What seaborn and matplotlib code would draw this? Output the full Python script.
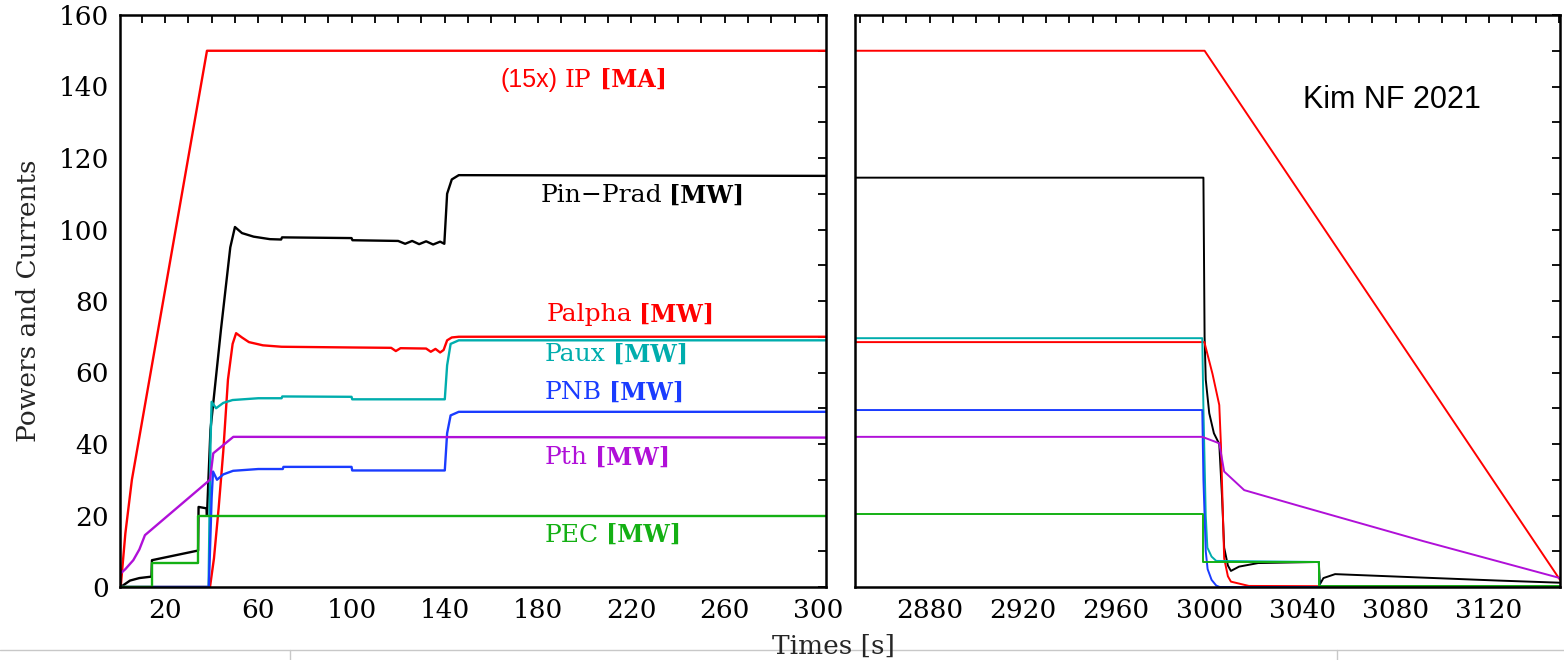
import matplotlib
matplotlib.use("Agg")
import matplotlib.pyplot as plt
from matplotlib.lines import Line2D
from matplotlib.ticker import MultipleLocator
import seaborn as sns

# ---------------------------------------------------------------------
# Data (time in s, values in MW / 15x MA)
# ---------------------------------------------------------------------
# left panel: ramp-up and flat-top
ip_t = [1, 3, 5.8, 38, 303.5]
ip_v = [0, 15, 30, 150, 150]

pin_t = [1, 5, 9, 14.2, 14.4, 34.2, 34.4, 37.8, 38.0, 39.5, 44, 48, 50, 53, 58,
         65, 69.8, 70.2, 100, 100.4, 120, 123, 126, 129, 132, 135, 138, 139.8,
         141, 143, 146, 303.5]
pin_v = [0, 1.8, 2.5, 2.9, 7.5, 10.2, 22.4, 22.0, 20.0, 44, 72, 95, 100.7, 99, 98,
         97.3, 97.2, 97.8, 97.6, 97.0, 96.8, 96.0, 96.8, 95.9, 96.7, 95.8, 96.6, 96.0,
         110, 114, 115.2, 115]

palpha_t = [1, 39.3, 41, 43, 45, 47, 49, 50.5, 53, 56, 62, 70, 100, 117, 119, 121,
            132, 134, 136, 138, 139.5, 141, 143, 146, 303.5]
palpha_v = [0, 0, 8, 22, 38, 58, 68, 71, 69.8, 68.5, 67.6, 67.2, 67.0, 66.9, 66.0, 66.8,
            66.7, 65.8, 66.6, 65.6, 66.3, 69, 69.8, 70, 70]

paux_t = [1, 38.7, 39.5, 40, 41.9, 45, 49, 60, 70, 70.3, 100, 100.3, 140, 141,
          142.5, 146, 303.5]
paux_v = [0, 0, 40, 51.8, 50, 51.5, 52.3, 52.8, 52.8, 53.3, 53.2, 52.5, 52.5, 62,
          68, 69, 69]

pnb_t = [1, 38.8, 40.0, 40.6, 42.3, 45, 49.2, 60, 70.5, 70.8, 100, 100.3, 140, 141,
         142.5, 146, 303.5]
pnb_v = [0, 0, 25, 32.3, 30, 31.5, 32.5, 33, 33, 33.6, 33.6, 32.6, 32.6, 43,
         48, 49, 49]

pth_t = [1, 3, 6.4, 9, 11.4, 39.3, 40.7, 49.3, 303.5]
pth_v = [3.8, 5, 7.5, 10.5, 14.5, 30, 37.4, 42, 41.8]

pec_t = [1, 14.3, 14.3, 34.3, 34.3, 303.5]
pec_v = [0, 0, 6.8, 6.8, 20, 20]

# right panel: ramp-down
ip_r_t = [2848, 2998, 3150.5]
ip_r_v = [150, 150, 2]

pin_r_t = [2848, 2997.5, 2998, 2998.5, 3000, 3002, 3004.3, 3005.5, 3006.4, 3008,
           3009.3, 3012.8, 3021, 3047, 3047.5, 3049, 3054, 3081, 3124, 3150.5]
pin_r_v = [114.5, 114.5, 70, 58, 48.6, 43, 40, 25, 11, 6, 4.5, 5.7, 6.7, 7, 0.8,
           2.5, 3.6, 2.9, 1.8, 1.2]

palpha_r_t = [2848, 2997.9, 3001.4, 3004.3, 3005, 3006.4, 3008, 3009.3, 3017, 3150.5]
palpha_r_v = [68.5, 68.5, 59.6, 50.9, 40, 8, 3, 1.5, 0.3, 0]

paux_r_t = [2848, 2997, 2997.5, 2998.5, 2999.2, 3001, 3003, 3047, 3047.3, 3150.5]
paux_r_v = [69.6, 69.6, 50, 20, 11, 8.5, 7.3, 7, 0, 0]

pnb_r_t = [2848, 2997, 2997.5, 2998.5, 2999.3, 3001, 3003, 3004.5, 3150.5]
pnb_r_v = [49.5, 49.5, 30, 10, 5, 2, 0.4, 0, 0]

pth_r_t = [2848, 2997, 3004.3, 3006.4, 3015, 3038.5, 3092, 3150.5]
pth_r_v = [42, 42, 40.2, 32.3, 27.1, 22.7, 12.8, 2.5]

pec_r_t = [2848, 2997.5, 2997.5, 3047, 3047, 3150.5]
pec_r_v = [20.5, 20.5, 7.1, 7.1, 0.2, 0.2]

# labels inside the left panel: name, position
label_names = ["Pin\u2212Prad", "Palpha", "Paux", "PNB", "Pth", "PEC"]
label_x = [181, 183.5, 183, 183, 183, 183]
label_y = [109.4, 76.1, 64.9, 54.3, 36.1, 14.5]

COLORS = {
    "ip": "#ff0000",
    "pin": "#000000",
    "palpha": "#ff0000",
    "paux": "#00adad",
    "pnb": "#1a3cff",
    "pth": "#b010d8",
    "pec": "#14b014",
}
label_colors = [COLORS["pin"], COLORS["palpha"], COLORS["paux"],
                COLORS["pnb"], COLORS["pth"], COLORS["pec"]]

sns.set_style("white")
plt.rcParams["font.family"] = ["DejaVu Serif"]

W, H = 1564, 660
fig = plt.figure(figsize=(W / 100, H / 100), dpi=100)
ax_l = fig.add_axes([120 / W, 1 - 587 / H, 706 / W, 572 / H])
ax_r = fig.add_axes([855 / W, 1 - 587 / H, 705 / W, 572 / H])

left_series = [(ip_t, ip_v, "ip"), (pin_t, pin_v, "pin"), (palpha_t, palpha_v, "palpha"),
               (paux_t, paux_v, "paux"), (pnb_t, pnb_v, "pnb"), (pth_t, pth_v, "pth"),
               (pec_t, pec_v, "pec")]
right_series = [(ip_r_t, ip_r_v, "ip"), (pin_r_t, pin_r_v, "pin"),
                (palpha_r_t, palpha_r_v, "palpha"), (paux_r_t, paux_r_v, "paux"),
                (pnb_r_t, pnb_r_v, "pnb"), (pth_r_t, pth_r_v, "pth"),
                (pec_r_t, pec_r_v, "pec")]

for ax, series, lw in [(ax_l, left_series, 1.7), (ax_r, right_series, 1.4)]:
    for t, v, key in series:
        sns.lineplot(x=t, y=v, ax=ax, color=COLORS[key], lw=lw,
                     estimator=None, sort=False)

    ax.set_ylim(0, 160)
    ax.yaxis.set_major_locator(MultipleLocator(20))
    ax.yaxis.set_minor_locator(MultipleLocator(10))
    ax.xaxis.set_minor_locator(MultipleLocator(10))
    for side in ax.spines.values():
        side.set_linewidth(1.8)
        side.set_color("black")
    ax.tick_params(which="both", direction="in", top=True, right=True,
                   length=6, width=1.3, colors="black")
    ax.tick_params(axis="both", which="major", labelsize=19, pad=8)

ax_l.set_xlim(0.7, 303.5)
ax_l.set_xticks([20, 60, 100, 140, 180, 220, 260, 300])
ax_r.set_xlim(2848, 3150.5)
ax_r.set_xticks([2880, 2920, 2960, 3000, 3040, 3080, 3120])
ax_r.set_yticklabels([])

# in-panel labels
ip_txt = ax_l.text(164, 141.8, "(15x)", color=COLORS["ip"], fontsize=18,
                   family="Liberation Sans", va="center", ha="left")
ip_txt2 = ax_l.annotate("IP", xy=(1, 0.5), xycoords=ip_txt, xytext=(5, 0),
                        textcoords="offset points", color=COLORS["ip"],
                        fontsize=18, va="center", ha="left")
ax_l.annotate("[MA]", xy=(1, 0.5), xycoords=ip_txt2, xytext=(6, 0),
              textcoords="offset points", color=COLORS["ip"], fontsize=17,
              fontweight="bold", va="center", ha="left")

for name, x, y, c in zip(label_names, label_x, label_y, label_colors):
    t = ax_l.text(x, y, name, color=c, fontsize=18, va="center", ha="left")
    ax_l.annotate("[MW]", xy=(1, 0.5), xycoords=t, xytext=(5, 0),
                  textcoords="offset points", color=c, fontsize=17,
                  fontweight="bold", va="center", ha="left")

ax_r.text(3078.4, 136.2, "Kim NF 2021", fontsize=22, family="Liberation Sans",
          ha="center", va="center", color="black")

ax_l.set_ylabel("Powers and Currents", fontsize=19)
ax_l.yaxis.set_label_coords(-0.112, 0.5)

# screenshot frame lines at the bottom edge
fig.add_artist(Line2D([0, 1], [1 - 650 / H, 1 - 650 / H], color="#c8c8c8", lw=1))
for xp in [290, 1337]:
    fig.add_artist(Line2D([xp / W, xp / W], [0, 1 - 650 / H], color="#c8c8c8", lw=1))

fig.text(833 / W, 1 - 646 / H, "Times [s]", fontsize=19, ha="center", va="center")

fig.savefig("out.png", dpi=100, facecolor="white")
plt.close(fig)
